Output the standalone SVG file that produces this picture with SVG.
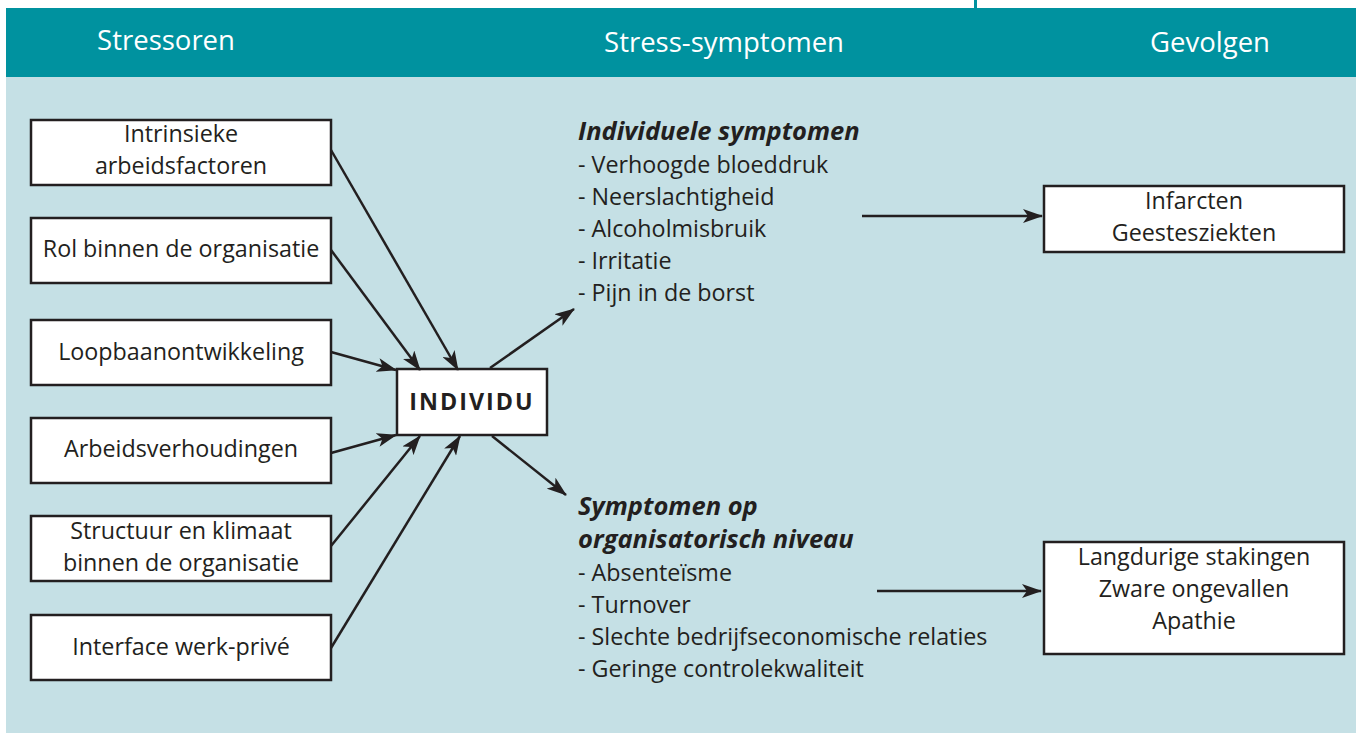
<svg xmlns="http://www.w3.org/2000/svg" width="1356" height="733" viewBox="0 0 1356 733">
<defs>
<marker id="ah" viewBox="0 0 20 14" refX="19" refY="7" markerWidth="20" markerHeight="14" markerUnits="userSpaceOnUse" orient="auto">
<path d="M0,0 L20,7 L0,14 L5,7 Z" fill="#231f20"/>
</marker>
</defs>
<style>
.box{fill:#fff;stroke:#231f20;stroke-width:2.5}
.t{font-family:"Open Sans","Liberation Sans",sans-serif;font-size:23.3px;fill:#231f20}
.c{text-anchor:middle}
.h{font-family:"Open Sans","Liberation Sans",sans-serif;font-size:27.5px;fill:#fff;text-anchor:middle}
.bi{font-weight:bold;font-style:italic;font-size:25.5px}
.con line{stroke:#231f20;stroke-width:2.5;marker-end:url(#ah)}
</style>
<rect x="0" y="0" width="1356" height="733" fill="#fff"/>
<rect x="6" y="8" width="1350" height="69" fill="#00929f"/>
<rect x="974" y="0" width="3" height="8" fill="#00929f"/>
<rect x="6" y="77" width="1350" height="656" fill="#c5e0e5"/>
<g id="headers">
<text class="h" x="166" y="50">Stressoren</text>
<text class="h" x="724" y="52">Stress-symptomen</text>
<text class="h" x="1210" y="52">Gevolgen</text>
</g>
<g id="n1"><rect class="box" x="31" y="120" width="300" height="65"/>
<text class="t c" x="181" y="142">Intrinsieke</text><text class="t c" x="181" y="174">arbeidsfactoren</text></g>
<g id="n2"><rect class="box" x="31" y="218" width="300" height="65"/>
<text class="t c" x="181" y="257">Rol binnen de organisatie</text></g>
<g id="n3"><rect class="box" x="31" y="320" width="300" height="65"/>
<text class="t c" x="181" y="360">Loopbaanontwikkeling</text></g>
<g id="n4"><rect class="box" x="31" y="418" width="300" height="65"/>
<text class="t c" x="181" y="457">Arbeidsverhoudingen</text></g>
<g id="n5"><rect class="box" x="31" y="516" width="300" height="65"/>
<text class="t c" x="181" y="539">Structuur en klimaat</text><text class="t c" x="181" y="571">binnen de organisatie</text></g>
<g id="n6"><rect class="box" x="31" y="615" width="300" height="65"/>
<text class="t c" x="181" y="655">Interface werk-privé</text></g>
<g id="individu"><rect class="box" x="397" y="369" width="150" height="66"/>
<text class="t c" x="472" y="410" font-weight="bold" font-size="26px" letter-spacing="2">INDIVIDU</text></g>
<g id="ind-symptomen">
<text class="t bi" x="578" y="140">Individuele symptomen</text>
<text class="t" x="578" y="173">- Verhoogde bloeddruk</text>
<text class="t" x="578" y="205">- Neerslachtigheid</text>
<text class="t" x="578" y="237">- Alcoholmisbruik</text>
<text class="t" x="578" y="269">- Irritatie</text>
<text class="t" x="578" y="301">- Pijn in de borst</text>
</g>
<g id="org-symptomen">
<text class="t bi" x="578" y="515">Symptomen op</text>
<text class="t bi" x="578" y="548">organisatorisch niveau</text>
<text class="t" x="578" y="581">- Absenteïsme</text>
<text class="t" x="578" y="613">- Turnover</text>
<text class="t" x="578" y="645">- Slechte bedrijfseconomische relaties</text>
<text class="t" x="578" y="677">- Geringe controlekwaliteit</text>
</g>
<g id="g1"><rect class="box" x="1044" y="186" width="300" height="66"/>
<text class="t c" x="1194" y="209">Infarcten</text><text class="t c" x="1194" y="241">Geestesziekten</text></g>
<g id="g2"><rect class="box" x="1044" y="542" width="300" height="112"/>
<text class="t c" x="1194" y="565">Langdurige stakingen</text><text class="t c" x="1194" y="597">Zware ongevallen</text><text class="t c" x="1194" y="629">Apathie</text></g>
<g class="con" id="connectors">
<line x1="331" y1="150" x2="458" y2="370"/>
<line x1="331" y1="250" x2="420" y2="370"/>
<line x1="331" y1="352" x2="396" y2="370"/>
<line x1="331" y1="453" x2="396" y2="435"/>
<line x1="331" y1="546" x2="420" y2="436"/>
<line x1="331" y1="648" x2="460" y2="436"/>
<line x1="490" y1="368" x2="574" y2="309"/>
<line x1="492" y1="436" x2="566" y2="495"/>
<line x1="862" y1="216" x2="1042" y2="216"/>
<line x1="877" y1="591" x2="1041" y2="591"/>
</g>
</svg>
